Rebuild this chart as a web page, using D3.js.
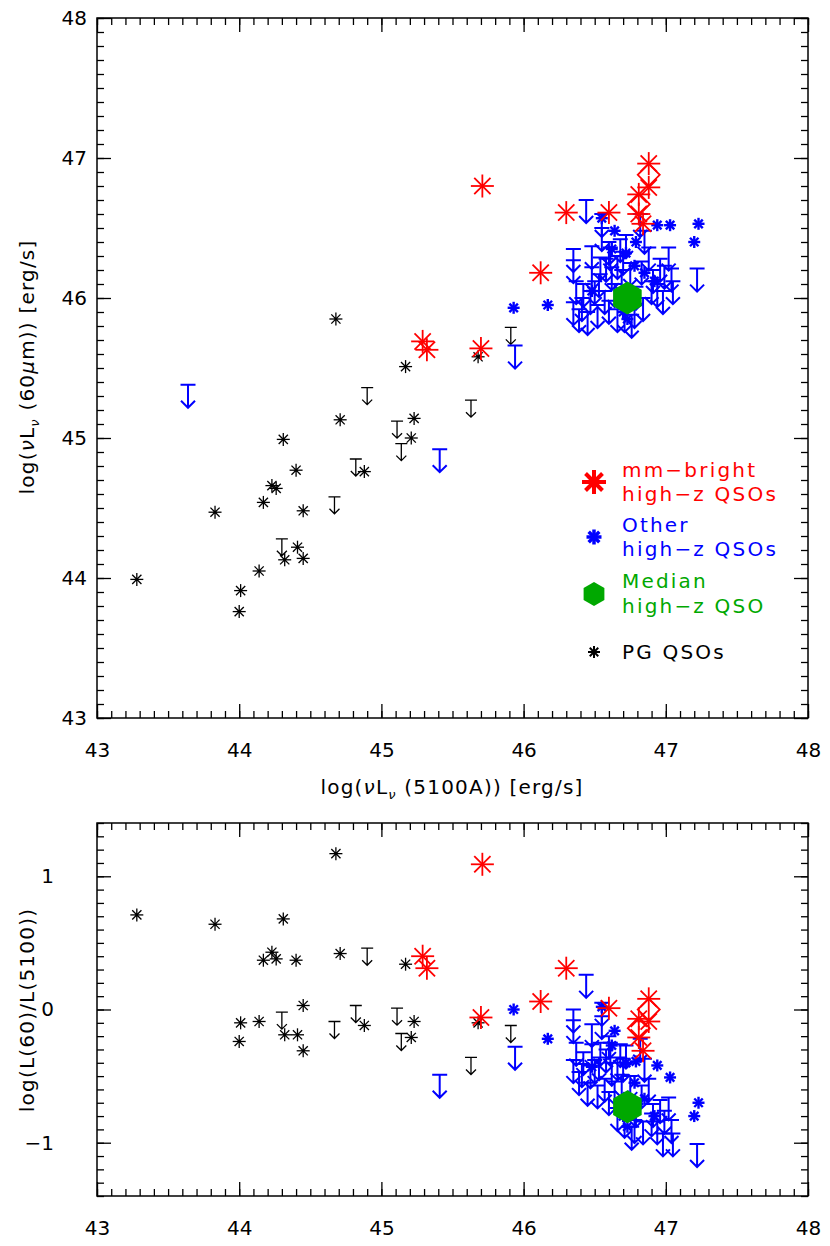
<!DOCTYPE html>
<html>
<head>
<meta charset="utf-8">
<script src="https://cdn.jsdelivr.net/npm/d3@7"></script>
<style>
  body { margin: 0; background: #fff; }
  svg text { font-family: "DejaVu Sans", sans-serif; }
</style>
</head>
<body>
<svg id="chart" width="830" height="1246"></svg>
<script>
// PG QSOs (detections)
var pgX = [44.68, 45.17, 45.68, 44.71, 45.23, 45.21, 44.31, 44.40, 44.88, 44.23, 44.26,
           44.17, 43.83, 44.45, 44.41, 44.32, 44.45, 44.14, 43.28, 44.01, 44.00];
var pgY = [45.85, 45.51, 45.58, 45.13, 45.14, 45.00, 44.99, 44.77, 44.76, 44.66, 44.64,
           44.54, 44.47, 44.48, 44.22, 44.13, 44.14, 44.05, 43.99, 43.91, 43.76];
// PG QSOs (upper limits)
var pgLimX = [44.90, 45.11, 45.14, 44.82, 44.67, 44.30, 45.63, 45.91];
var pgLimY = [45.36, 45.12, 44.96, 44.85, 44.58, 44.28, 45.27, 45.79];
// mm-bright high-z QSOs
var mmX = [45.71, 46.12, 46.30, 46.60, 46.88, 46.88, 46.81, 46.81, 46.84, 45.29, 45.32, 45.70];
var mmY = [46.80, 46.18, 46.61, 46.61, 46.96, 46.79, 46.74, 46.60, 46.53, 45.69, 45.63, 45.64];
var mmDiaX = [46.88, 46.81];
var mmDiaY = [46.88, 46.67];
// other high-z QSOs (detections)
var otherX = [45.93, 46.17, 47.23, 47.20, 47.03, 46.94, 46.79, 46.64, 46.55, 46.72, 46.78,
              46.62, 46.48, 46.85, 46.92, 46.70, 46.73];
var otherY = [45.93, 45.95, 46.53, 46.40, 46.52, 46.52, 46.40, 46.48, 46.57, 46.32, 46.23,
              46.35, 46.05, 46.18, 46.12, 45.90, 45.85];
// other high-z QSOs (upper limits)
var otherLimX = [46.44, 46.35, 46.35, 46.35, 46.41, 46.48, 46.48, 46.55, 46.55, 46.54, 46.53,
                 46.47, 46.61, 46.66, 46.69, 46.72, 46.82, 46.85, 46.88, 46.91, 47.02, 46.99,
                 47.04, 47.22, 46.94, 46.79, 46.76, 46.71, 46.58, 46.62, 46.64, 46.57, 46.60,
                 46.52, 46.45, 46.66, 46.78, 46.84, 46.90, 46.96, 46.70, 46.75, 46.83, 46.60,
                 46.68, 46.50, 46.42, 46.98, 47.05, 46.37, 46.39, 45.94, 45.41, 43.64];
var otherLimY = [46.70, 46.35, 46.27, 45.97, 46.00, 46.37, 46.22, 46.60, 46.50, 46.29, 46.17,
                 46.05, 46.36, 46.30, 46.20, 46.45, 46.60, 46.48, 46.36, 46.20, 46.36, 46.23,
                 46.21, 46.21, 46.10, 46.08, 45.88, 45.92, 46.28, 46.22, 46.10, 46.05, 45.98,
                 45.95, 45.90, 45.92, 45.95, 46.00, 46.12, 46.28, 46.33, 46.25, 46.26, 46.40,
                 46.42, 46.12, 46.10, 46.05, 46.12, 46.12, 45.92, 45.66, 44.92, 45.38];
// median high-z QSO
var medianX = [46.73];
var medianY = [46.00];

var xTicks = [43, 44, 45, 46, 47, 48];
var yTopTicks = [43, 44, 45, 46, 47, 48];
var yBotTicks = [-1, 0, 1];

var RED = "#ff0000", BLUE = "#0000ff", GREEN = "#00a800", BLACK = "#000";

var svg = d3.select("#chart");

var x = d3.scaleLinear().domain([43, 48]).range([97, 808]);
var yTop = d3.scaleLinear().domain([43, 48]).range([718, 18]);
var yBot = d3.scaleLinear().domain([-1.4, 1.4]).range([1196, 823]);

function pairs(xs, ys, ratio) {
    return xs.map(function (v, i) {
        return { x: v, y: ratio ? ys[i] - v : ys[i] };
    });
}

function asterisk(g, cx, cy, r, color, w) {
    [0, 45, 90, 135].forEach(function (a) {
        var t = a * Math.PI / 180;
        g.append("line")
            .attr("x1", cx - r * Math.cos(t)).attr("y1", cy - r * Math.sin(t))
            .attr("x2", cx + r * Math.cos(t)).attr("y2", cy + r * Math.sin(t))
            .attr("stroke", color).attr("stroke-width", w);
    });
}

function upperLimit(g, cx, cy, half, len, wing, color, w) {
    g.append("path")
        .attr("d", "M" + (cx - half) + "," + cy + "H" + (cx + half) +
              "M" + cx + "," + cy + "V" + (cy + len) +
              "M" + (cx - wing) + "," + (cy + len - wing) + "L" + cx + "," + (cy + len) +
              "L" + (cx + wing) + "," + (cy + len - wing))
        .attr("fill", "none").attr("stroke", color).attr("stroke-width", w);
}

function diamond(g, cx, cy, r, color, w) {
    g.append("path")
        .attr("d", "M" + cx + "," + (cy - r) + "L" + (cx + r) + "," + cy + "L" + cx + "," + (cy + r) +
              "L" + (cx - r) + "," + cy + "Z")
        .attr("fill", "none").attr("stroke", color).attr("stroke-width", w);
}

function hexagon(g, cx, cy, r, color) {
    var pts = d3.range(6).map(function (i) {
        var t = (i * 60 - 90) * Math.PI / 180;
        return [cx + r * Math.cos(t), cy + r * Math.sin(t)];
    });
    g.append("polygon").attr("points", pts.join(" ")).attr("fill", color);
}

function frame(y, ticksY, minorY, labelPad, yFormat) {
    var r0 = y.range();
    var top = Math.min(r0[0], r0[1]), bottom = Math.max(r0[0], r0[1]);
    var left = x.range()[0], right = x.range()[1];
    var xMinor = d3.range(43, 48.001, 0.1).map(function (v) { return Math.round(v * 10) / 10; });

    function style(g) {
        g.select(".domain").remove();
        g.selectAll("line").attr("stroke", BLACK).attr("stroke-width", 1.3);
        g.selectAll("text").attr("font-size", 20).attr("fill", BLACK)
            .attr("font-family", "DejaVu Sans, sans-serif");
    }

    // minor ticks, all four sides
    svg.append("g").attr("transform", "translate(0," + bottom + ")")
        .call(d3.axisBottom(x).tickValues(xMinor).tickSize(-7).tickFormat("")).call(style);
    svg.append("g").attr("transform", "translate(0," + top + ")")
        .call(d3.axisTop(x).tickValues(xMinor).tickSize(-7).tickFormat("")).call(style);
    svg.append("g").attr("transform", "translate(" + left + ",0)")
        .call(d3.axisLeft(y).tickValues(minorY).tickSize(-7).tickFormat("")).call(style);
    svg.append("g").attr("transform", "translate(" + right + ",0)")
        .call(d3.axisRight(y).tickValues(minorY).tickSize(-7).tickFormat("")).call(style);

    // major ticks with labels
    svg.append("g").attr("transform", "translate(0," + bottom + ")")
        .call(d3.axisBottom(x).tickValues(xTicks).tickSize(-14).tickPadding(25).tickFormat(d3.format("d")))
        .call(style);
    svg.append("g").attr("transform", "translate(0," + top + ")")
        .call(d3.axisTop(x).tickValues(xTicks).tickSize(-14).tickFormat("")).call(style);
    svg.append("g").attr("transform", "translate(" + left + ",0)")
        .call(d3.axisLeft(y).tickValues(ticksY).tickSize(-14).tickPadding(labelPad).tickFormat(yFormat))
        .call(style);
    svg.append("g").attr("transform", "translate(" + right + ",0)")
        .call(d3.axisRight(y).tickValues(ticksY).tickSize(-14).tickFormat("")).call(style);

    svg.append("rect").attr("x", left).attr("y", top)
        .attr("width", right - left).attr("height", bottom - top)
        .attr("fill", "none").attr("stroke", BLACK).attr("stroke-width", 1.5);
}

function panel(y, ratio, clipId) {
    var r0 = y.range();
    var top = Math.min(r0[0], r0[1]), bottom = Math.max(r0[0], r0[1]);
    svg.append("clipPath").attr("id", clipId).append("rect")
        .attr("x", x.range()[0]).attr("y", top)
        .attr("width", x.range()[1] - x.range()[0]).attr("height", bottom - top);
    var g = svg.append("g").attr("clip-path", "url(#" + clipId + ")");

    pairs(pgX, pgY, ratio).forEach(function (d) {
        asterisk(g, x(d.x), y(d.y), 6.5, BLACK, 1.3);
        g.append("circle").attr("cx", x(d.x)).attr("cy", y(d.y)).attr("r", 1.6).attr("fill", BLACK);
    });
    pairs(pgLimX, pgLimY, ratio).forEach(function (d) {
        upperLimit(g, x(d.x), y(d.y), 6, 17, 5, BLACK, 1.3);
    });
    pairs(otherLimX, otherLimY, ratio).forEach(function (d) {
        upperLimit(g, x(d.x), y(d.y), 7.5, 23, 7, BLUE, 2);
    });
    pairs(otherX, otherY, ratio).forEach(function (d) {
        asterisk(g, x(d.x), y(d.y), 6, BLUE, 2.4);
    });
    pairs(mmX, mmY, ratio).forEach(function (d) {
        asterisk(g, x(d.x), y(d.y), 11.5, RED, 1.8);
    });
    pairs(mmDiaX, mmDiaY, ratio).forEach(function (d) {
        diamond(g, x(d.x), y(d.y), 11, RED, 1.8);
    });
    pairs(medianX, medianY, ratio).forEach(function (d) {
        hexagon(g, x(d.x), y(d.y), 16.5, GREEN);
    });
}

var minorTop = d3.range(43, 48.001, 0.1).map(function (v) { return Math.round(v * 10) / 10; });
var minorBot = d3.range(-1.4, 1.401, 0.1).map(function (v) { return Math.round(v * 10) / 10; });

panel(yTop, false, "clipTop");
frame(yTop, yTopTicks, minorTop, 10, d3.format("d"));

panel(yBot, true, "clipBot");
frame(yBot, yBotTicks, minorBot, 43, d3.format("d"));

// axis titles
var t1 = svg.append("text").attr("transform", "translate(34,367) rotate(-90)")
    .attr("text-anchor", "middle").attr("font-size", 20).attr("letter-spacing", 1.2);
t1.append("tspan").text("log(");
t1.append("tspan").attr("font-style", "italic").text("ν");
t1.append("tspan").text("L");
t1.append("tspan").attr("font-size", 13).attr("dy", 5).attr("font-style", "italic").text("ν");
t1.append("tspan").attr("dy", -5).text(" (60");
t1.append("tspan").attr("font-style", "italic").text("μ");
t1.append("tspan").text("m)) [erg/s]");

var t2 = svg.append("text").attr("x", 452).attr("y", 794)
    .attr("text-anchor", "middle").attr("font-size", 20).attr("letter-spacing", 1.2);
t2.append("tspan").text("log(");
t2.append("tspan").attr("font-style", "italic").text("ν");
t2.append("tspan").text("L");
t2.append("tspan").attr("font-size", 13).attr("dy", 5).attr("font-style", "italic").text("ν");
t2.append("tspan").attr("dy", -5).text(" (5100A)) [erg/s]");

svg.append("text").attr("transform", "translate(34,1010) rotate(-90)")
    .attr("text-anchor", "middle").attr("font-size", 20).attr("letter-spacing", 1.2)
    .text("log(L(60)/L(5100))");

// legend
var legend = svg.append("g");
asterisk(legend, 594, 482, 12, RED, 4);
asterisk(legend, 594, 537, 7.5, BLUE, 3.5);
hexagon(legend, 594, 594, 12, GREEN);
asterisk(legend, 594, 652, 6, BLACK, 2);
var legendText = [
    { y: 477, t: "mm\u2212bright", c: RED }, { y: 501, t: "high\u2212z QSOs", c: RED },
    { y: 532, t: "Other", c: BLUE }, { y: 556, t: "high\u2212z QSOs", c: BLUE },
    { y: 588, t: "Median", c: GREEN }, { y: 613, t: "high\u2212z QSO", c: GREEN },
    { y: 659, t: "PG QSOs", c: BLACK }
];
legend.selectAll("text.lg").data(legendText).enter().append("text")
    .attr("class", "lg")
    .attr("x", 622).attr("y", function (d) { return d.y; })
    .attr("font-size", 20).attr("letter-spacing", 2.2)
    .attr("fill", function (d) { return d.c; })
    .text(function (d) { return d.t; });
</script>
</body>
</html>
